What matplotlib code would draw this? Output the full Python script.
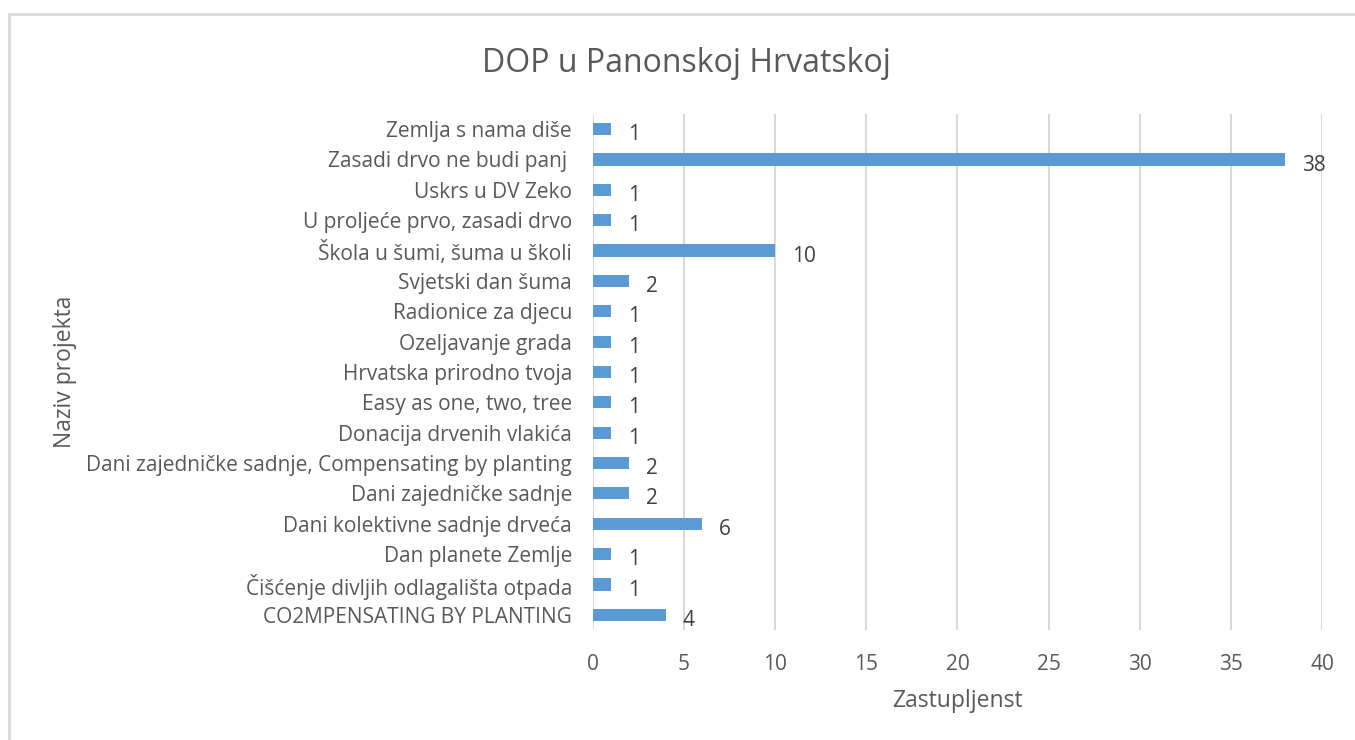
import matplotlib.pyplot as plt
from matplotlib.patches import Rectangle

plt.rcParams["font.family"] = ["Open Sans", "DejaVu Sans"]

projects = [
    "Zemlja s nama diše",
    "Zasadi drvo ne budi panj ",
    "Uskrs u DV Zeko",
    "U proljeće prvo, zasadi drvo",
    "Škola u šumi, šuma u školi",
    "Svjetski dan šuma",
    "Radionice za djecu",
    "Ozeljavanje grada",
    "Hrvatska prirodno tvoja",
    "Easy as one, two, tree",
    "Donacija drvenih vlakića",
    "Dani zajedničke sadnje, Compensating by planting",
    "Dani zajedničke sadnje",
    "Dani kolektivne sadnje drveća",
    "Dan planete Zemlje",
    "Čišćenje divljih odlagališta otpada",
    "CO2MPENSATING BY PLANTING",
]
counts = [1, 38, 1, 1, 10, 2, 1, 1, 1, 1, 1, 2, 2, 6, 1, 1, 4]

text_color = "#595959"
bar_color = "#5b9bd5"
grid_color = "#d9d9d9"

fig = plt.figure(figsize=(13.55, 7.4), dpi=100)
ax = fig.add_axes([0.4376, 0.1486, 0.5380, 0.6974])

# chart border like the Excel chart area
fig.patches.append(Rectangle((9 / 1355, -0.05), 1.1, 1 - 14 / 740 + 0.05,
                             transform=fig.transFigure, fill=False,
                             edgecolor=grid_color, linewidth=2))

y = list(range(len(projects)))[::-1]
ax.barh(y, counts, height=0.4, color=bar_color, zorder=3)

for yi, c in zip(y, counts):
    ax.annotate(str(c), (c, yi), xytext=(12, -4), textcoords="offset points",
                ha="left", va="center", fontsize=15, color="#404040")

ax.set_xlim(0, 40)
ax.set_ylim(-0.5, len(projects) - 0.5)
ax.set_xticks(range(0, 41, 5))
ax.set_yticks(y)
ax.set_yticklabels(projects)
ax.tick_params(axis="both", length=0, labelsize=15, labelcolor=text_color)
ax.tick_params(axis="y", pad=15)
ax.tick_params(axis="x", pad=17)
ax.grid(axis="x", color=grid_color, linewidth=1.5, zorder=0)
for s in ax.spines.values():
    s.set_visible(False)

ax.set_xlabel("Zastupljenst", fontsize=16.5, color=text_color, labelpad=10)
fig.text(65 / 1355, 0.4973, "Naziv projekta", rotation=90, ha="center",
         va="center", fontsize=16.5, color=text_color)
fig.text(686 / 1355, 1 - 63 / 740, "DOP u Panonskoj Hrvatskoj", ha="center",
         va="center", fontsize=23, color=text_color)

plt.savefig("out.png", dpi=100)
